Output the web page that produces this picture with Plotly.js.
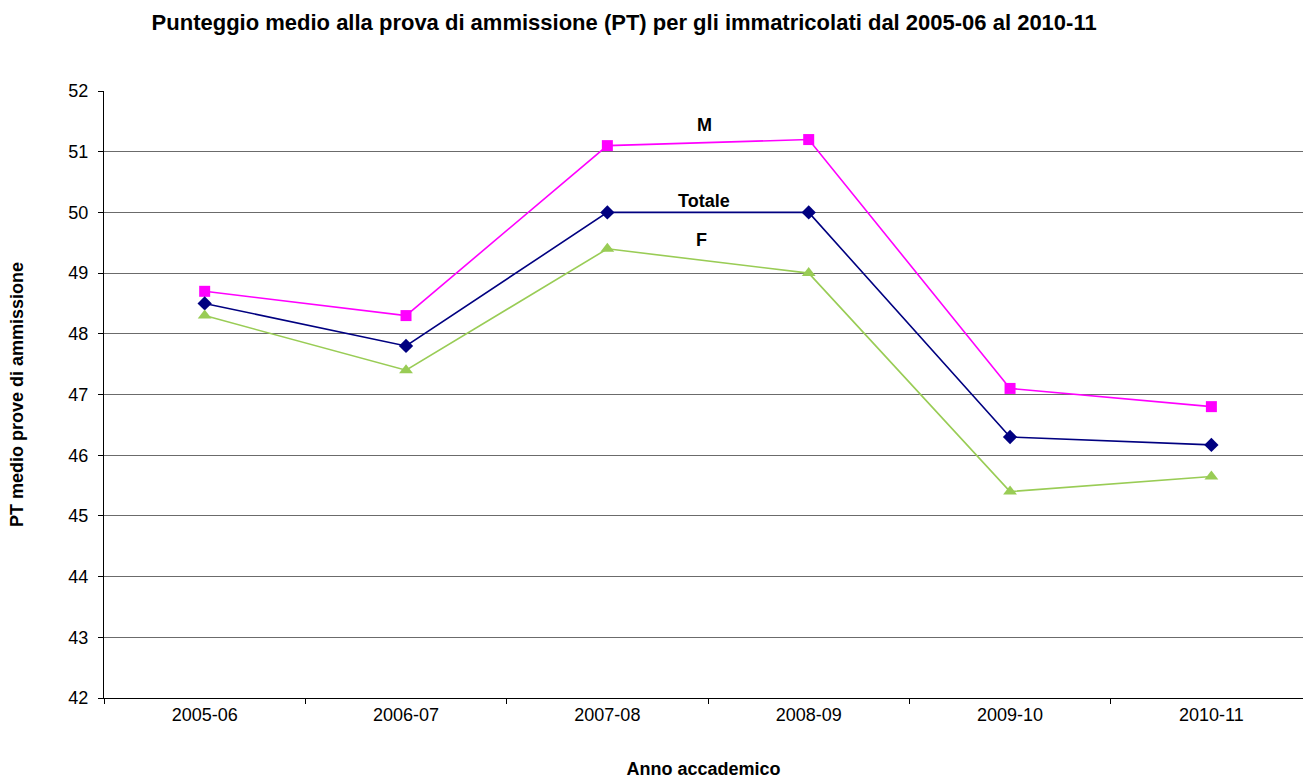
<!DOCTYPE html>
<html>
<head>
<meta charset="utf-8">
<script src="https://cdn.plot.ly/plotly-3.0.1.min.js"></script>
<style>html,body{margin:0;padding:0;background:#fff;}#chart{width:1303px;height:779px;}</style>
</head>
<body>
<div id="chart"></div>
<script>
const categories = ["2005-06", "2006-07", "2007-08", "2008-09", "2009-10", "2010-11"];
const valuesM = [48.7, 48.3, 51.1, 51.2, 47.1, 46.8];
const valuesTotale = [48.5, 47.8, 50.0, 50.0, 46.3, 46.17];
const valuesF = [48.3, 47.4, 49.4, 49.0, 45.4, 45.65];
const seriesLabels = ["M", "Totale", "F"];

const FONT = "Liberation Sans, Arial, sans-serif";

const traces = [
  {x: categories, y: valuesM, name: seriesLabels[0], type: "scatter", mode: "lines+markers",
   line: {color: "#FF00FF", width: 1.6}, marker: {symbol: "square", size: 11, color: "#FF00FF"}},
  {x: categories, y: valuesTotale, name: seriesLabels[1], type: "scatter", mode: "lines+markers",
   line: {color: "#000080", width: 1.6}, marker: {symbol: "diamond", size: 11, color: "#000080"}},
  {x: categories, y: valuesF, name: seriesLabels[2], type: "scatter", mode: "lines+markers",
   line: {color: "#99CC55", width: 1.6}, marker: {symbol: "triangle-up", size: 12, color: "#99CC55"}}
];

const layout = {
  width: 1303, height: 779,
  margin: {l: 104, r: 0, t: 91, b: 81},
  paper_bgcolor: "#fff", plot_bgcolor: "#fff",
  showlegend: false,
  font: {family: FONT, size: 18, color: "#000"},
  title: {text: "<b>Punteggio medio alla prova di ammissione (PT) per gli immatricolati dal 2005-06 al 2010-11</b>",
          font: {family: FONT, size: 22, color: "#000"}, xref: "container", x: 0.479, xanchor: "center",
          yref: "container", y: 0.972, yanchor: "middle"},
  xaxis: {
    type: "category", range: [-0.5, 5.455], showgrid: false, zeroline: false,
    showline: true, linecolor: "#000", linewidth: 1,
    ticks: "outside", ticklen: 5, tickcolor: "#000", tickson: "boundaries",
    tickfont: {family: FONT, size: 18, color: "#000"},
    title: {text: "<b>Anno accademico</b>", font: {family: FONT, size: 18, color: "#000"}, standoff: 39}
  },
  yaxis: {
    range: [42, 52], dtick: 1, tick0: 42,
    showgrid: true, gridcolor: "#6b6b6b", gridwidth: 1, zeroline: false,
    showline: true, linecolor: "#000", linewidth: 1,
    ticks: "outside", ticklen: 5, tickcolor: "#000", ticklabelstandoff: 6,
    tickfont: {family: FONT, size: 18, color: "#000"},
    title: {text: "<b>PT medio prove di ammissione</b>", font: {family: FONT, size: 18, color: "#000"}, standoff: 40}
  },
  annotations: [
    {x: 2.48, y: 51.44, xref: "x", yref: "y", text: "<b>M</b>", showarrow: false, font: {family: FONT, size: 18}},
    {x: 2.48, y: 50.19, xref: "x", yref: "y", text: "<b>Totale</b>", showarrow: false, font: {family: FONT, size: 18}},
    {x: 2.47, y: 49.55, xref: "x", yref: "y", text: "<b>F</b>", showarrow: false, font: {family: FONT, size: 18}}
  ]
};

Plotly.newPlot("chart", traces, layout, {displayModeBar: false, staticPlot: true});
</script>
</body>
</html>
